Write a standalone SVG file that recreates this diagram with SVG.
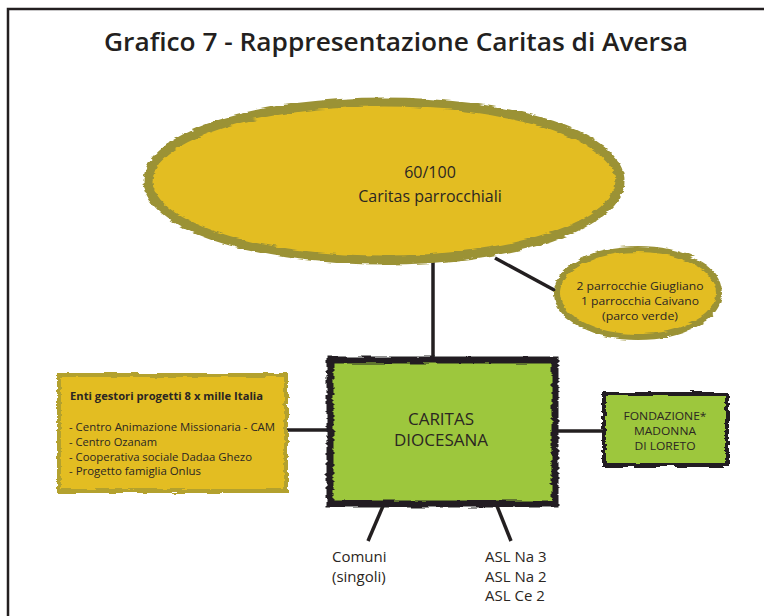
<svg xmlns="http://www.w3.org/2000/svg" width="764" height="616" viewBox="0 0 764 616">
<defs>
<filter id="rough" x="-10%" y="-10%" width="120%" height="120%">
<feTurbulence type="fractalNoise" baseFrequency="0.05 0.3" numOctaves="2" seed="3" result="n"/>
<feDisplacementMap in="SourceGraphic" in2="n" scale="5" xChannelSelector="R" yChannelSelector="G"/>
</filter>
<style>
.t{font-family:"Open Sans","Noto Sans",sans-serif;fill:#2b2622;}
.title{font-family:"Open Sans","DejaVu Sans",sans-serif;font-weight:600;font-size:25px;fill:#231f20;}
.conn{stroke:#231f20;stroke-width:3.5;fill:none;stroke-linecap:butt;}
.gold{fill:#e3bd22;}
.olive{fill:none;stroke:#9b9236;}
.green{fill:#9dc73d;}
.dark{fill:none;stroke:#231f20;}
</style>
</defs>
<rect width="764" height="616" fill="#ffffff"/>
<g id="frame" fill="none" stroke="#231f20" stroke-width="2.5">
<path d="M8 616 V9 H764"/>
</g>
<text class="title" x="104" y="51" textLength="584" lengthAdjust="spacingAndGlyphs">Grafico 7 - Rappresentazione Caritas di Aversa</text>
<g id="connectors">
<line class="conn" x1="433" y1="262" x2="433" y2="360"/>
<line class="conn" x1="495" y1="258" x2="556" y2="291"/>
<line class="conn" x1="286" y1="430" x2="331" y2="430"/>
<line class="conn" x1="555" y1="431" x2="605" y2="431"/>
<line class="conn" x1="383" y1="506" x2="368" y2="541"/>
<line class="conn" x1="497" y1="506" x2="511" y2="541"/>
</g>
<g id="caritas-parrocchiali">
<ellipse class="gold" cx="384" cy="181" rx="236" ry="79"/>
<ellipse class="olive" cx="384" cy="181" rx="236" ry="79" stroke-width="9" filter="url(#rough)"/>
<text class="t" x="430" y="178" font-size="16" text-anchor="middle">60/100</text>
<text class="t" x="430" y="202" font-size="16" text-anchor="middle">Caritas parrocchiali</text>
</g>
<g id="parrocchie">
<ellipse class="gold" cx="638" cy="293" rx="81" ry="44"/>
<ellipse class="olive" cx="638" cy="293" rx="81" ry="44" stroke-width="6" filter="url(#rough)"/>
<text class="t" x="640" y="290" font-size="11" text-anchor="middle" textLength="127" lengthAdjust="spacingAndGlyphs">2 parrocchie Giugliano</text>
<text class="t" x="640" y="305" font-size="11" text-anchor="middle" textLength="118" lengthAdjust="spacingAndGlyphs">1 parrocchia Caivano</text>
<text class="t" x="640" y="320" font-size="11" text-anchor="middle" textLength="76" lengthAdjust="spacingAndGlyphs">(parco verde)</text>
</g>
<g id="caritas-diocesana">
<rect class="green" x="330" y="360" width="225" height="144"/>
<rect class="dark" x="330" y="360" width="225" height="144" stroke-width="7" filter="url(#rough)"/>
<text class="t" x="441" y="425" font-size="17" text-anchor="middle">CARITAS</text>
<text class="t" x="441" y="446" font-size="17" text-anchor="middle">DIOCESANA</text>
</g>
<g id="fondazione">
<rect class="green" x="604" y="394" width="123" height="71"/>
<rect class="dark" x="604" y="394" width="123" height="71" stroke-width="4" filter="url(#rough)"/>
<text class="t" x="665" y="420" font-size="11" text-anchor="middle" textLength="83" lengthAdjust="spacingAndGlyphs">FONDAZIONE*</text>
<text class="t" x="665" y="435" font-size="11" text-anchor="middle" textLength="62" lengthAdjust="spacingAndGlyphs">MADONNA</text>
<text class="t" x="665" y="450" font-size="11" text-anchor="middle" textLength="61" lengthAdjust="spacingAndGlyphs">DI LORETO</text>
</g>
<g id="enti-gestori">
<rect class="gold" x="59" y="375" width="227" height="116"/>
<rect fill="none" stroke="#b3a12e" x="59" y="375" width="227" height="116" stroke-width="4" filter="url(#rough)"/>
<text class="t" x="70" y="400" font-size="11" font-weight="700" textLength="193" lengthAdjust="spacingAndGlyphs">Enti gestori progetti 8 x mille Italia</text>
<text class="t" x="69" y="431" font-size="11" textLength="206" lengthAdjust="spacingAndGlyphs">- Centro Animazione Missionaria - CAM</text>
<text class="t" x="69" y="446" font-size="11" textLength="88" lengthAdjust="spacingAndGlyphs">- Centro Ozanam</text>
<text class="t" x="69" y="461" font-size="11" textLength="183" lengthAdjust="spacingAndGlyphs">- Cooperativa sociale Dadaa Ghezo</text>
<text class="t" x="69" y="475" font-size="11" textLength="132" lengthAdjust="spacingAndGlyphs">- Progetto famiglia Onlus</text>
</g>
<g id="comuni">
<text class="t" x="332" y="562" font-size="15">Comuni</text>
<text class="t" x="332" y="582" font-size="15">(singoli)</text>
</g>
<g id="asl">
<text class="t" x="485" y="562" font-size="15">ASL Na 3</text>
<text class="t" x="485" y="582" font-size="15">ASL Na 2</text>
<text class="t" x="485" y="601" font-size="15">ASL Ce 2</text>
</g>
</svg>
